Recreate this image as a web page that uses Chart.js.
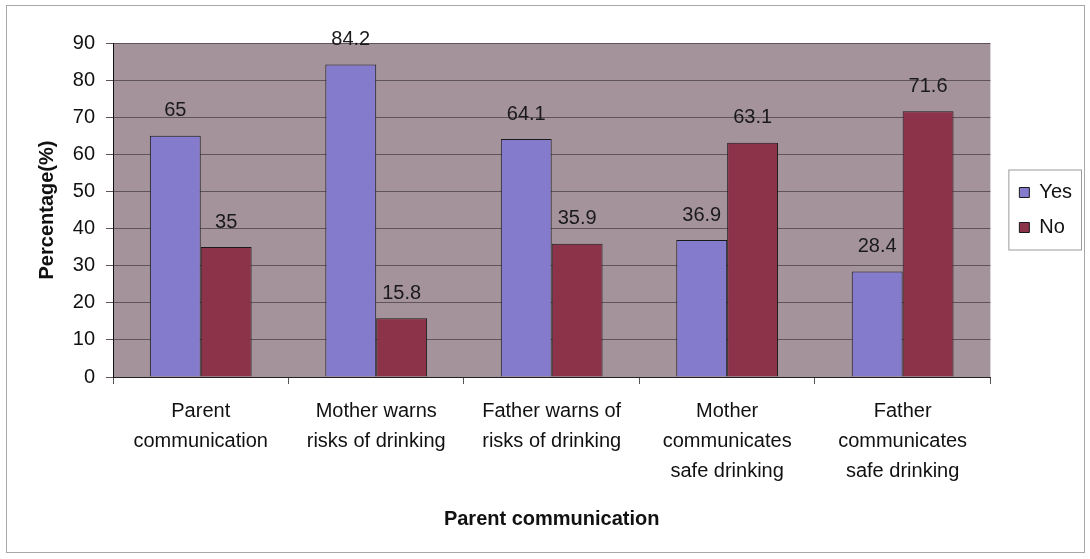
<!DOCTYPE html>
<html>
<head>
<meta charset="utf-8">
<script src="https://cdn.jsdelivr.net/npm/chart.js@4/dist/chart.umd.min.js"></script>
<style>
  body { margin: 0; background: #fff; }
  #wrap { position: relative; width: 1090px; height: 559px; }
  #frame { position: absolute; left: 6px; top: 5px; width: 1077px; height: 546px; border: 1px solid #a8a8a8; pointer-events: none; }
</style>
</head>
<body>
<div id="wrap">
  <canvas id="chart" width="1090" height="559"></canvas>
  <div id="frame"></div>
</div>
<script>
// categories (multi-line labels)
const categories = [
  ["Parent", "communication"],
  ["Mother warns", "risks of drinking"],
  ["Father warns of", "risks of drinking"],
  ["Mother", "communicates", "safe drinking"],
  ["Father", "communicates", "safe drinking"]
];
const yesValues = [65, 84.2, 64.1, 36.9, 28.4];
const noValues = [35, 15.8, 35.9, 63.1, 71.6];
const yTicks = [0, 10, 20, 30, 40, 50, 60, 70, 80, 90];

const FONT = "'Liberation Sans', Arial, sans-serif";

// grey plot background
const plotBackground = {
  id: "plotBackground",
  beforeDraw(chart) {
    const { ctx, chartArea: a } = chart;
    ctx.save();
    ctx.fillStyle = "#a5939b";
    ctx.fillRect(a.left, a.top, a.right - a.left, a.bottom - a.top);
    ctx.restore();
  }
};

// value labels over bars
const valueLabels = {
  id: "valueLabels",
  afterDatasetsDraw(chart) {
    const ctx = chart.ctx;
    ctx.save();
    ctx.font = "20px " + FONT;
    ctx.fillStyle = "#1a1a1a";
    ctx.textAlign = "center";
    ctx.textBaseline = "middle";
    chart.data.datasets.forEach((ds, i) => {
      chart.getDatasetMeta(i).data.forEach((bar, j) => {
        ctx.fillText(String(ds.data[j]), bar.x, bar.y - 25);
      });
    });
    ctx.restore();
  }
};

// move the legend: a gap after the plot, centred on the plot area; then frame it
const legendBox = {
  id: "legendBox",
  afterLayout(chart) {
    const lg = chart.legend, a = chart.chartArea;
    lg.left += 14;
    lg.right += 14;
    const dy = (a.top + a.bottom) / 2 - (lg.top + lg.bottom) / 2;
    lg.top += dy;
    lg.bottom += dy;
  },
  afterDraw(chart) {
    const boxes = chart.legend.legendHitBoxes;
    if (!boxes || !boxes.length) return;
    const ctx = chart.ctx;
    const first = boxes[0], last = boxes[boxes.length - 1];
    const w = Math.max(...boxes.map(b => b.width));
    ctx.save();
    ctx.strokeStyle = "#9a9a9a";
    ctx.lineWidth = 1;
    ctx.strokeRect(first.left - 10.5, first.top - 12.5, w + 20, last.top + last.height - first.top + 25);
    ctx.restore();
  }
};

new Chart(document.getElementById("chart"), {
  type: "bar",
  data: {
    labels: categories,
    datasets: [
      {
        label: "Yes",
        data: yesValues,
        backgroundColor: "#857bcc",
        borderColor: "#1a1a1a",
        borderWidth: 1
      },
      {
        label: "No",
        data: noValues,
        backgroundColor: "#8c3349",
        borderColor: "#1a1a1a",
        borderWidth: 1
      }
    ]
  },
  options: {
    responsive: false,
    animation: false,
    datasets: {
      bar: { categoryPercentage: 0.58, barPercentage: 1 }
    },
    layout: { padding: { left: 8, right: 22, top: 43, bottom: 24 } },
    plugins: {
      legend: {
        position: "right",
        labels: {
          font: { family: FONT, size: 20 },
          color: "#111",
          boxWidth: 10,
          boxHeight: 10,
          padding: 15
        }
      },
      tooltip: { enabled: false }
    },
    scales: {
      x: {
        grid: { drawOnChartArea: false, tickLength: 7, color: "#555", offset: true },
        border: { color: "#222" },
        ticks: {
          font: { family: FONT, size: 20, lineHeight: 1.5 },
          color: "#111",
          padding: 12,
          maxRotation: 0,
          autoSkip: false
        },
        title: {
          display: true,
          text: "Parent communication",
          font: { family: FONT, size: 20, weight: "bold" },
          color: "#111"
        },
        afterFit(scale) { scale.height = 559 - 377 - 24; }
      },
      y: {
        min: 0,
        max: 90,
        afterBuildTicks(scale) { scale.ticks = yTicks.map(v => ({ value: v })); },
        grid: { color: "#5f545b", tickLength: 7 },
        border: { color: "#111" },
        ticks: {
          font: { family: FONT, size: 20 },
          color: "#111",
          padding: 11
        },
        title: {
          display: true,
          text: "Percentage(%)",
          font: { family: FONT, size: 20, weight: "bold" },
          color: "#111",
          padding: { top: 27, bottom: 0 }
        },
        afterFit(scale) { scale.width = 113 - 8; }
      }
    }
  },
  plugins: [plotBackground, valueLabels, legendBox]
});
</script>
</body>
</html>
